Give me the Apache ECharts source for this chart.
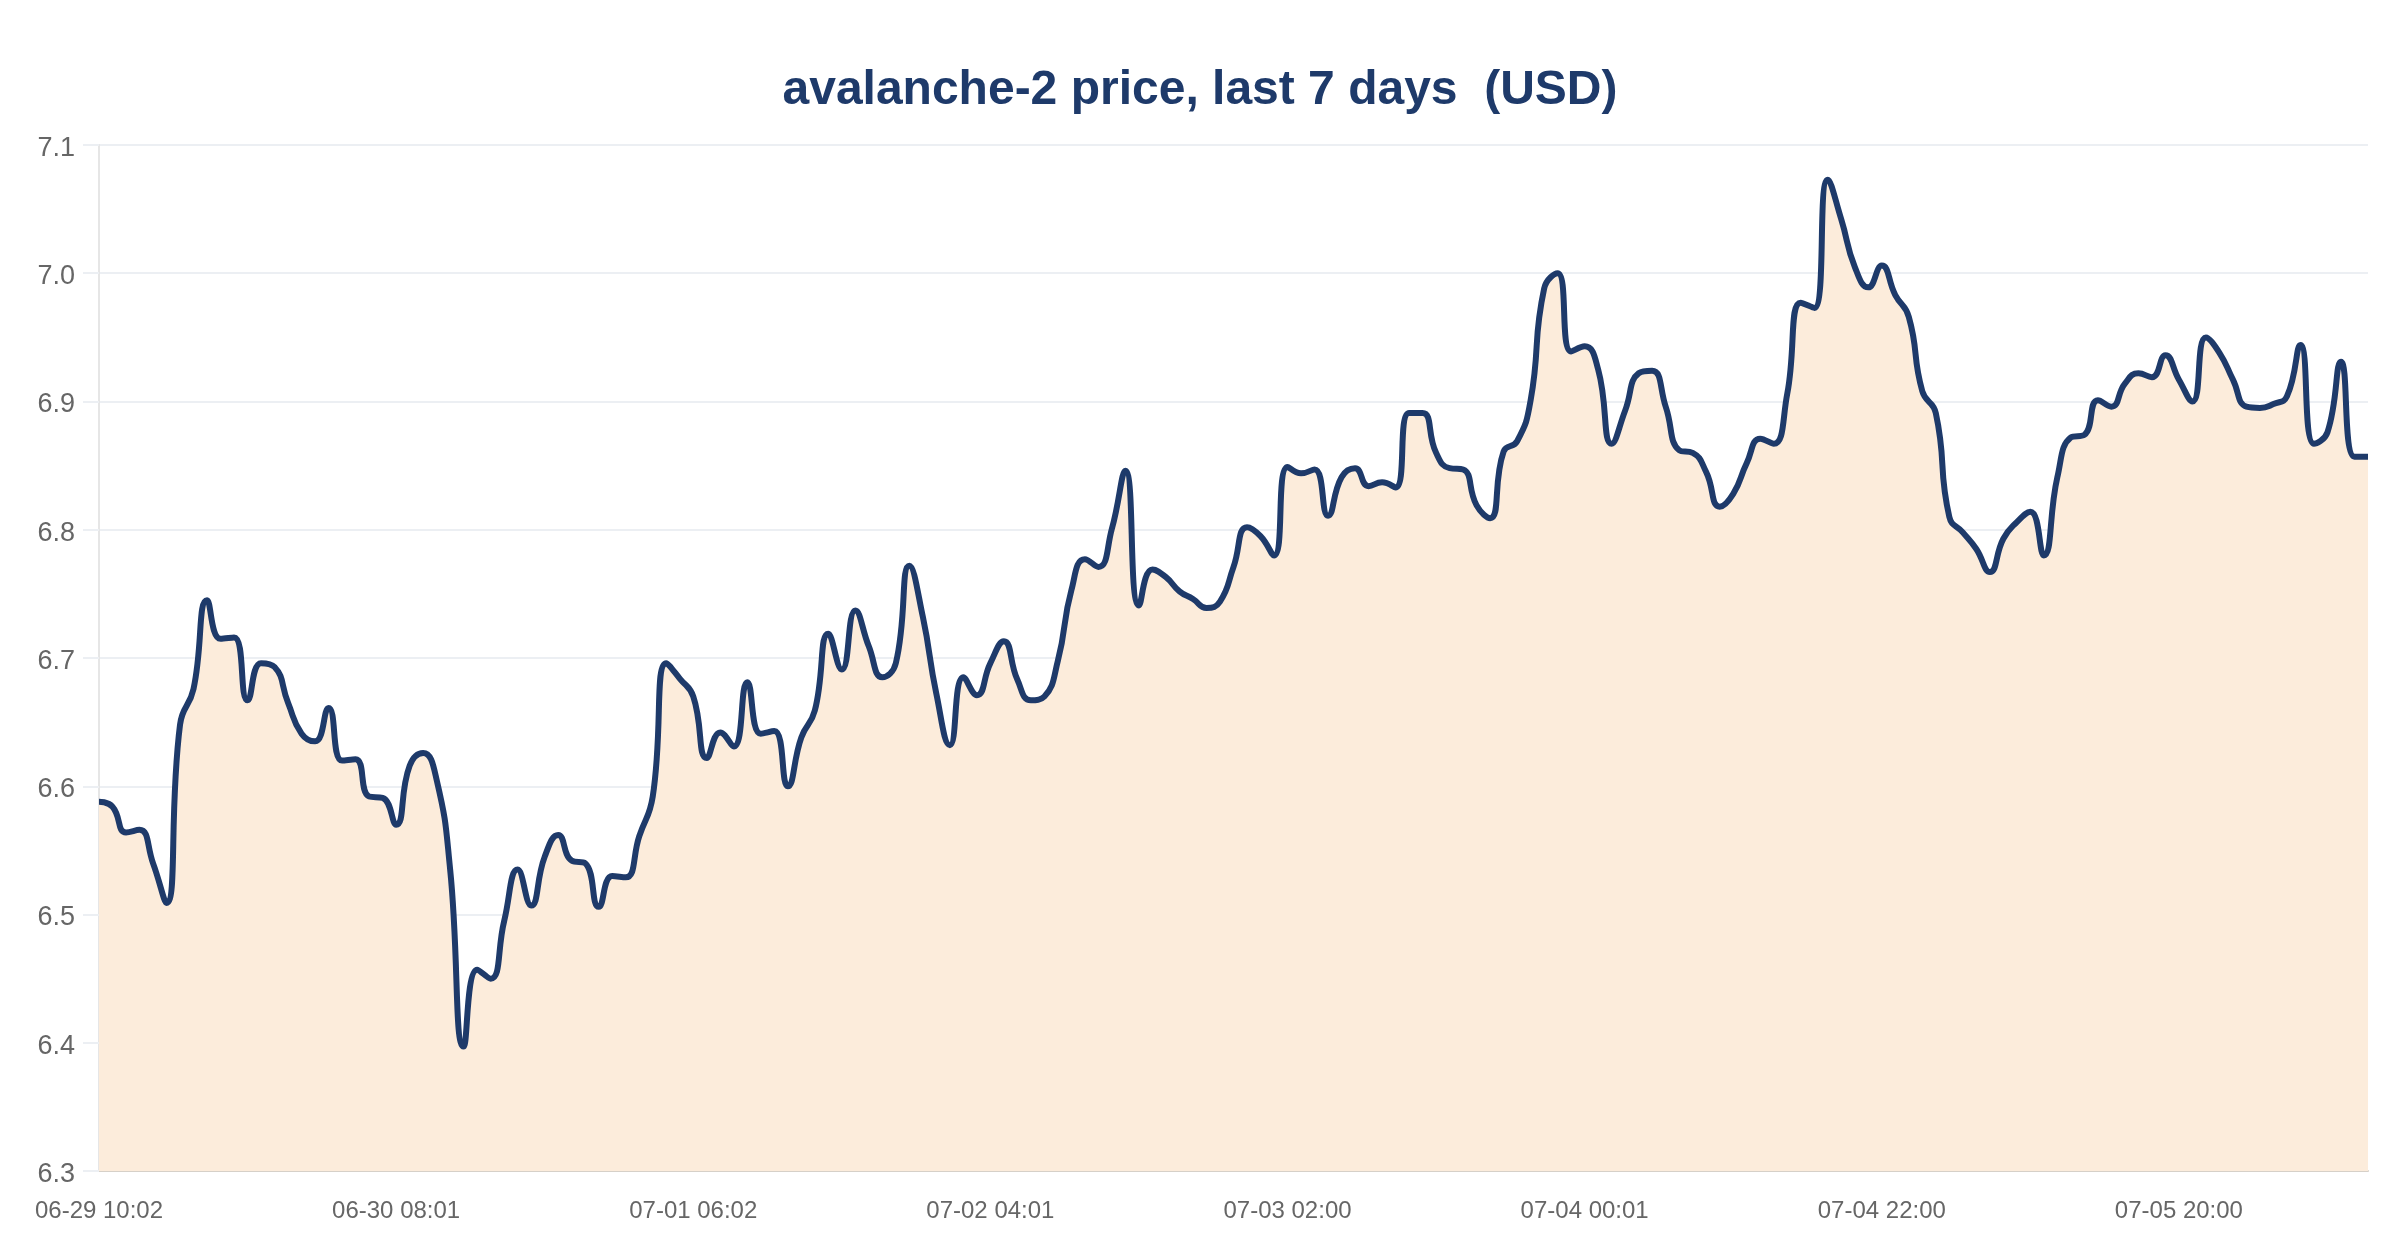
<!DOCTYPE html>
<html>
<head>
<meta charset="utf-8">
<script src="https://cdn.jsdelivr.net/npm/echarts@6/dist/echarts.min.js"></script>
<style>
html,body{margin:0;padding:0;background:#fff;}
#chart{width:2400px;height:1260px;}
</style>
</head>
<body>
<div id="chart"></div>
<script>
const chartTitle = "avalanche-2 price, last 7 days  (USD)";
const xTickLabels = ["06-29 10:02","06-30 08:01","07-01 06:02","07-02 04:01","07-03 02:00","07-04 00:01","07-04 22:00","07-05 20:00"];
const yTicks = [6.3, 6.4, 6.5, 6.6, 6.7, 6.8, 6.9, 7.0, 7.1];
const prices = [
  6.588, 6.584, 6.564, 6.566, 6.540, 6.509, 6.648, 6.676, 6.745, 6.715,
  6.716, 6.667, 6.696, 6.693, 6.665, 6.641, 6.635, 6.661, 6.620, 6.621,
  6.592, 6.591, 6.570, 6.616, 6.626, 6.605, 6.535, 6.397, 6.457, 6.450,
  6.495, 6.535, 6.507, 6.545, 6.562, 6.542, 6.540, 6.506, 6.530, 6.529,
  6.561, 6.592, 6.696, 6.684, 6.670, 6.622, 6.642, 6.631, 6.681, 6.641,
  6.643, 6.600, 6.638, 6.659, 6.719, 6.691, 6.737, 6.709, 6.685, 6.696,
  6.772, 6.732, 6.672, 6.632, 6.685, 6.671, 6.696, 6.713, 6.683, 6.667,
  6.670, 6.698, 6.753, 6.777, 6.771, 6.801, 6.846, 6.741, 6.769, 6.763,
  6.752, 6.746, 6.739, 6.744, 6.771, 6.802, 6.795, 6.780, 6.849, 6.844,
  6.847, 6.811, 6.841, 6.848, 6.834, 6.837, 6.833, 6.891, 6.891, 6.860,
  6.848, 6.847, 6.819, 6.809, 6.861, 6.869, 6.901, 6.988, 7.000, 6.939,
  6.943, 6.925, 6.867, 6.893, 6.922, 6.924, 6.896, 6.862, 6.860, 6.845,
  6.818, 6.828, 6.852, 6.871, 6.867, 6.906, 6.977, 6.973, 7.073, 7.042,
  7.005, 6.989, 7.006, 6.983, 6.966, 6.908, 6.891, 6.810, 6.798, 6.785,
  6.767, 6.793, 6.806, 6.814, 6.780, 6.841, 6.872, 6.874, 6.901, 6.896,
  6.914, 6.922, 6.919, 6.936, 6.917, 6.900, 6.950, 6.938, 6.917, 6.896,
  6.895, 6.898, 6.904, 6.944, 6.867, 6.876, 6.931, 6.857, 6.857
];
const labelEvery = 22;
const categories = prices.map((_, i) => i);

const chart = echarts.init(document.getElementById('chart'), null, {renderer: 'canvas'});
chart.setOption({
  animation: false,
  backgroundColor: '#ffffff',
  title: {
    text: chartTitle,
    left: 'center',
    top: 62,
    textStyle: {
      fontFamily: 'Liberation Sans, Arial, sans-serif',
      fontWeight: 'bold',
      fontSize: 48,
      color: '#1e3a6a'
    }
  },
  grid: {left: 99, right: 32, top: 145, bottom: 89, containLabel: false},
  xAxis: {
    type: 'category',
    data: categories,
    boundaryGap: false,
    axisLine: {show: true, lineStyle: {color: '#d6d0c8', width: 2}},
    axisTick: {show: false},
    splitLine: {show: false},
    axisLabel: {
      interval: labelEvery - 1,
      margin: 28,
      fontFamily: 'Liberation Sans, Arial, sans-serif',
      fontSize: 24,
      color: '#666666',
      formatter: function (v, idx) {
        const k = idx / labelEvery;
        return Number.isInteger(k) && k < xTickLabels.length ? xTickLabels[k] : '';
      }
    }
  },
  yAxis: {
    type: 'value',
    min: yTicks[0],
    max: yTicks[yTicks.length - 1],
    interval: 0.1,
    axisLine: {show: true, lineStyle: {color: '#e6e6e6', width: 2}},
    axisTick: {show: true, length: 16, lineStyle: {color: '#eceff3', width: 2}},
    splitLine: {show: true, lineStyle: {color: '#eceff3', width: 2}},
    axisLabel: {
      margin: 24,
      fontFamily: 'Liberation Sans, Arial, sans-serif',
      fontSize: 27,
      color: '#666666',
      formatter: function (v) { return '{t|' + v.toFixed(1) + '}'; },
      rich: {
        t: {
          fontFamily: 'Liberation Sans, Arial, sans-serif',
          fontSize: 27,
          color: '#666666',
          padding: [7, 0, 0, 0]
        }
      }
    }
  },
  series: [{
    type: 'line',
    data: prices,
    smooth: 0.5,
    symbol: 'none',
    lineStyle: {color: '#1e3a6a', width: 6},
    areaStyle: {color: '#fcecdb', opacity: 1, origin: 'start'},
    z: 3
  }]
});
</script>
</body>
</html>
